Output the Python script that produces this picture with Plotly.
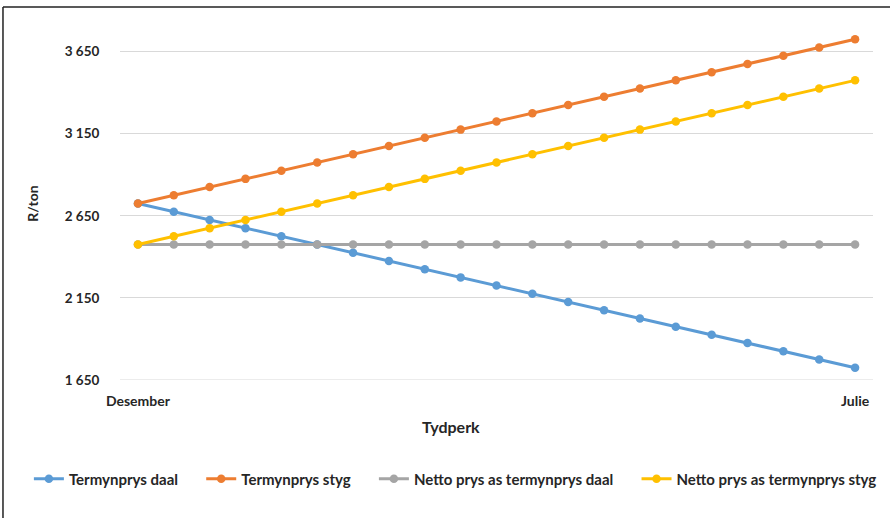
import plotly.graph_objects as go

x_idx = list(range(21))
tick_labels = ["Desember", "Julie"]
termyn_daal = [2725, 2675, 2625, 2575, 2525, 2475, 2425, 2375, 2325, 2275, 2225,
               2175, 2125, 2075, 2025, 1975, 1925, 1875, 1825, 1775, 1725]
termyn_styg = [2725, 2775, 2825, 2875, 2925, 2975, 3025, 3075, 3125, 3175, 3225,
               3275, 3325, 3375, 3425, 3475, 3525, 3575, 3625, 3675, 3725]
netto_daal = [2475] * 21
netto_styg = [2475, 2525, 2575, 2625, 2675, 2725, 2775, 2825, 2875, 2925, 2975,
              3025, 3075, 3125, 3175, 3225, 3275, 3325, 3375, 3425, 3475]

series = [
    ("Termynprys daal", termyn_daal, "#5B9BD5"),
    ("Termynprys styg", termyn_styg, "#ED7D31"),
    ("Netto prys as termynprys daal", netto_daal, "#A5A5A5"),
    ("Netto prys as termynprys styg", netto_styg, "#FFC000"),
]

pad = "\u00a0" * 5
fig = go.Figure()
for i, (name, vals, col) in enumerate(series):
    label = name + (pad if i < len(series) - 1 else "")
    fig.add_trace(go.Scatter(
        x=x_idx, y=vals, name=label, mode="lines+markers",
        line=dict(color=col, width=3),
        marker=dict(color=col, size=8.5),
    ))

font_fam = "Lato, 'Open Sans', sans-serif"
fig.update_layout(
    width=890, height=518,
    margin=dict(l=120, r=17, t=27, b=138, autoexpand=False),
    plot_bgcolor="white", paper_bgcolor="white",
    font=dict(family=font_fam, size=12, color="#262626"),
    showlegend=True,
    legend=dict(orientation="h", x=-0.121, y=-0.2805, xanchor="left", yanchor="middle",
                font=dict(size=15, family=font_fam, weight="bold"),
                itemwidth=30, tracegroupgap=0),
    xaxis=dict(
        range=[-0.5, 20.5], tickmode="array", tickvals=[0, 20], ticktext=tick_labels,
        showgrid=False, zeroline=False, showline=False,
        ticks="outside", ticklen=8, tickcolor="rgba(0,0,0,0)",
        tickfont=dict(size=14, weight="bold"),
    ),
    yaxis=dict(
        range=[1650, 3800], tick0=1650, dtick=500, tickformat=",d",
        showgrid=True, gridcolor="#D9D9D9", gridwidth=1, zeroline=False,
        showline=False, ticks="outside", ticklen=17, tickcolor="rgba(0,0,0,0)",
        tickfont=dict(size=13.5, weight="bold"),
        title=dict(text="R/ton", font=dict(size=14, weight="bold"), standoff=22),
    ),
    separators=". ",
)
fig.add_annotation(text="<b>Tydperk</b>", xref="paper", yref="paper",
                   x=0.4396, y=-0.131, showarrow=False,
                   xanchor="center", yanchor="middle",
                   font=dict(size=16, family=font_fam, color="#262626"))
fig.add_shape(type="line", xref="paper", yref="y", x0=0, x1=1, y0=1650, y1=1650,
              line=dict(color="#D9D9D9", width=1), layer="below")
fig.add_shape(type="line", xref="paper", yref="paper", x0=-0.1554, x1=-0.1554, y0=-0.5, y1=1.0567,
              line=dict(color="#222222", width=1.5))
fig.add_shape(type="line", xref="paper", yref="paper", x0=-0.1554, x1=1.1, y0=1.0567, y1=1.0567,
              line=dict(color="#222222", width=1.5))

fig.write_html("out.html", config={"displayModeBar": False},
               post_script="document.body.style.margin='0';")
